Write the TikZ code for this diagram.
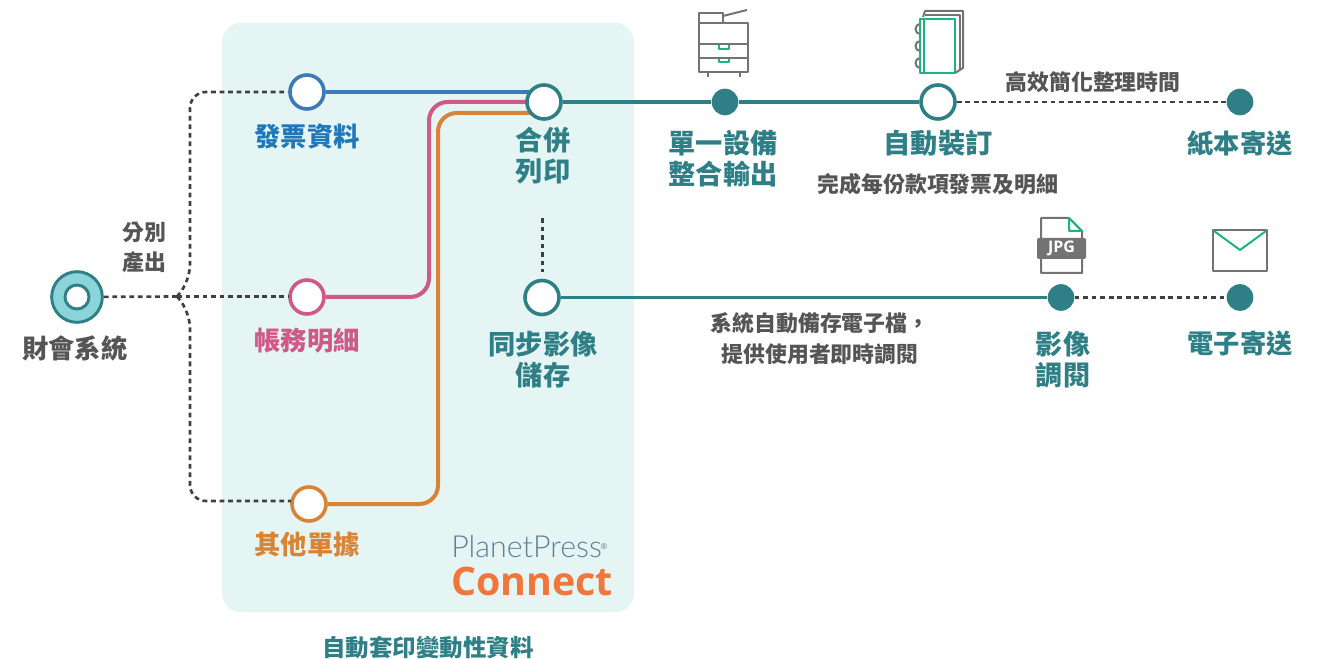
\documentclass[tikz,border=0pt]{standalone}
\usepackage{fontspec}
\setmainfont{Noto Sans CJK TC}
\newfontfamily\logobold{Open Sans}
\newfontfamily\logolight{Lato Light}
\usetikzlibrary{backgrounds}
\definecolor{tealdark}{HTML}{2F7F86}
\definecolor{ringfill}{HTML}{8AD4DA}
\definecolor{panelfill}{HTML}{E5F5F4}
\definecolor{bluedark}{HTML}{3D7AB8}
\definecolor{bluetext}{HTML}{1F78B8}
\definecolor{pinkdark}{HTML}{CF5A87}
\definecolor{orangedark}{HTML}{D98335}
\definecolor{textgrey}{HTML}{555555}
\definecolor{icongrey}{HTML}{737373}
\definecolor{icongreen}{HTML}{1DB382}
\definecolor{logoslate}{HTML}{5F7F9B}
\definecolor{logoorange}{HTML}{F2763A}
\tikzset{every text node part/.style={align=center}}
\tikzset{
	hollow/.style={circle, draw=#1, fill=white, line width=2.7pt, minimum size=25.5pt, inner sep=0pt},
	solid dot/.style={circle, fill=tealdark, minimum size=20pt, inner sep=0pt},
	biglabel/.style={inner sep=0pt, text=#1, font=\fontsize{19.7}{23.2}\selectfont\bfseries},
	routelabel/.style={inner sep=0pt, text=tealdark, font=\fontsize{20.4}{23.2}\selectfont\bfseries},
	smalllabel/.style={inner sep=0pt, text=textgrey, font=\fontsize{16.4}{22.8}\selectfont\bfseries},
	teal line/.style={draw=tealdark, line width=2.3pt},
	feed line/.style={draw=#1, line width=3pt, rounded corners=14pt},
	dot line/.style={draw=black!75, line width=2pt, dash pattern=on 3.6pt off 2.8pt},
	icon line/.style={draw=icongrey, line width=1.5pt, line join=round},
	icon green/.style={draw=icongreen, line width=1.5pt, line join=round},
}
\newcommand{\copiericon}{%
	\draw[icon line] (699,23) rectangle (748,72);
	\draw[icon line] (699,23) -- (699,13) -- (723,13) -- (723,23);
	\draw[icon line] (723,16) -- (747,10);
	\draw[icon line] (699,44) -- (748,44);
	\draw[icon line] (699,58) -- (748,58);
	\draw[icon line] (708,72) -- (708,77);
	\draw[icon line] (740,72) -- (740,77);
	\draw[icon green] (719,45) -- (719,49) -- (729,49) -- (729,45);
	\draw[icon green] (719,59) -- (719,62) -- (729,62) -- (729,59);
}
\newcommand{\booklet}{%
	\draw[icon line] (923,17) -- (925,11) -- (963,11) -- (963,68) -- (955,73);
	\draw[icon line] (925,15) -- (960,15) -- (960,70);
	\foreach \ringy in {29,46,63}
	{
		\draw[icon line] (920,\ringy+5) arc (90:270:4.5 and 5);
	}
	\draw[icon green] (920,19) rectangle (955,73);
	\draw[icon green] (924,19) -- (924,73);
}
\newcommand{\jpgfile}{%
	\draw[icon line] (1041,218) -- (1069,218) -- (1082,231) -- (1082,273) -- (1041,273) -- cycle;
	\draw[icon green] (1069,218) -- (1069,231) -- (1082,231) -- cycle;
	\node[fill=icongrey, rounded corners=1.5pt, minimum width=36.75pt, minimum height=15.75pt, inner sep=0pt, text=white, font=\logobold\fontsize{12}{12}\selectfont\bfseries] (jpgtag) at (1061.5,248.5) {JPG};
}
\newcommand{\envelope}{%
	\draw[icon line] (1213,230) rectangle (1267,271);
	\draw[icon green] (1214,231) -- (1240,250) -- (1266,231);
}

\begin{document}
\begin{tikzpicture}[x=0.75pt, y=-0.75pt, line cap=butt]
	\useasboundingbox (0,0) rectangle (1322,659);

	% Nodes on the main routes
	\node[circle, draw=tealdark, fill=ringfill, line width=2.2pt, minimum size=38pt, inner sep=0pt] (system) at (77,297) {};
	\node[circle, draw=tealdark, fill=white, line width=2.2pt, minimum size=18pt, inner sep=0pt] (systemhole) at (77,297) {};
	\node[hollow=bluedark] (invoice) at (307,92) {};
	\node[hollow=pinkdark] (ledger) at (307,297) {};
	\node[hollow=orangedark] (voucher) at (309,504) {};
	\node[hollow=tealdark] (merge) at (544,102) {};
	\node[hollow=tealdark] (archive) at (542,297.5) {};
	\node[solid dot] (single) at (725,102) {};
	\node[hollow=tealdark] (binding) at (938,102) {};
	\node[solid dot] (paper) at (1240,102) {};
	\node[solid dot] (viewing) at (1061,297.5) {};
	\node[solid dot] (email) at (1240,297.5) {};

	% Free ends and bends
	\coordinate (split) at (177,296.5);
	\coordinate (bendup) at (190,281);
	\coordinate (benddown) at (190,312);
	\coordinate (voucherleft) at (291,501);
	\coordinate (pinkturn) at (429,102);
	\coordinate (orangeturn) at (438,113);
	\coordinate (dropstart) at (542.6,218);
	\coordinate (dropend) at (542.6,272);

	\begin{scope}[on background layer]
		\fill[panelfill, rounded corners=14pt] (222,23) rectangle (634,612);
		\draw[feed line=bluedark] (invoice) -- (invoice -| merge);
		\draw[feed line=pinkdark] (ledger) -- (ledger -| pinkturn) -- (pinkturn) -- (pinkturn -| merge);
		\draw[feed line=orangedark] (voucher) -- (voucher -| orangeturn) -- (orangeturn) -- (orangeturn -| merge);
		\draw[teal line] (merge) -- (single);
		\draw[teal line] (single) -- (binding);
		\draw[teal line] (archive) -- (viewing);
	\end{scope}

	% Dotted routes
	\draw[dot line] (system) -- (split);
	\draw[dot line] (split) -- (split -| ledger.west);
	\draw[dot line, rounded corners=12pt] (split) -- (bendup) -- (bendup |- invoice) -- (invoice);
	\draw[dot line, rounded corners=12pt] (split) -- (benddown) -- (benddown |- voucherleft) -- (voucherleft);
	\draw[dot line] (dropstart) -- (dropend);
	\draw[dot line] (binding) -- (paper);
	\draw[dot line] (viewing) -- (email);

	% Labels
	\node[biglabel=textgrey] (systemtext) at (75,348) {財會系統};
	\node[smalllabel] (splittext) at (144,247.5) {分別\\產出};
	\node[biglabel=bluetext] (invoicetext) at (307,136) {發票資料};
	\node[biglabel=pinkdark] (ledgertext) at (307,341) {帳務明細};
	\node[biglabel=orangedark] (vouchertext) at (307,544.5) {其他單據};
	\node[routelabel] (mergetext) at (543,155.5) {合併\\列印};
	\node[routelabel] (archivetext) at (543,359.5) {同步影像\\儲存};
	\node[routelabel] (singletext) at (723,158.5) {單一設備\\整合輸出};
	\node[routelabel] (bindingtext) at (938,143.5) {自動裝訂};
	\node[biglabel=tealdark] (papertext) at (1240,143) {紙本寄送};
	\node[routelabel] (viewingtext) at (1063,360) {影像\\調閱};
	\node[biglabel=tealdark] (emailtext) at (1240,343.5) {電子寄送};
	\node[smalllabel] (timetext) at (1093,82.5) {高效簡化整理時間};
	\node[smalllabel] (detailtext) at (938,184) {完成每份款項發票及明細};
	\node[smalllabel] (savetext) at (820,338.5) {系統自動備存電子檔，\\提供使用者即時調閱};
	\node[inner sep=0pt, text=tealdark, font=\fontsize{17.6}{20}\selectfont\bfseries] (panelnote) at (428,648) {自動套印變動性資料};

	% Logo
	\node[anchor=base west, inner sep=0pt, text=logoslate, font=\logolight\fontsize{22.8}{24}\selectfont] (planetpress) at (451,557) {PlanetPress};
	\node[inner sep=0pt, text=logoslate, font=\logobold\fontsize{6}{6}\selectfont] (regmark) at (604,547) {®};
	\node[anchor=base west, inner sep=0pt, text=logoorange, font=\logobold\fontsize{29.5}{30}\selectfont\bfseries] (connect) at (451,595) {Connect};

	% Icons
	\copiericon
	\booklet
	\jpgfile
	\envelope
\end{tikzpicture}
\end{document}
